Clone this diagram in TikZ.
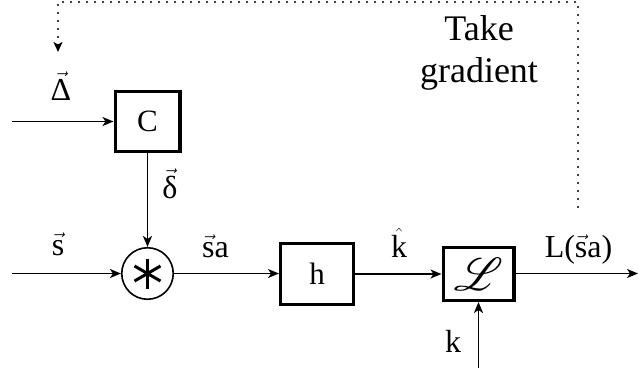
\documentclass[tikz,border=0pt]{standalone}
\usepackage{fontspec}
\setmainfont{Liberation Serif}
\usepackage{mathrsfs}
\usepackage{graphicx}
\usetikzlibrary{arrows.meta,calc}
\begin{document}
\begin{tikzpicture}[x=1pt,y=-1pt,
  blockbox/.style={draw, line width=3.4pt, inner sep=0pt, font=\fontsize{31}{34}\selectfont},
  convnode/.style={draw, circle, line width=1.6pt, minimum size=51.5pt, inner sep=0pt},
  sig/.style={line width=1.8pt, -{Stealth[length=11pt,width=9pt,inset=3pt]}},
  fb/.style={line width=2.2pt, line cap=round, dash pattern=on 0pt off 8pt, -{Stealth[length=10pt,width=9pt,inset=2.5pt]}},
  lbl/.style={inner sep=0pt, anchor=base, font=\fontsize{32}{34}\selectfont},
  note/.style={inner sep=0pt, align=center, font=\fontsize{36}{42}\selectfont}
]
\useasboundingbox (0,0) rectangle (639,368);

% blocks
\node[blockbox, minimum width=64.6pt, minimum height=59.6pt] (C) at (147.5,121.5) {C};
\node[convnode] (conv) at (147.5,273.5) {};
\node[blockbox, minimum width=72.6pt, minimum height=60.6pt] (h) at (317,274) {h};
\node[blockbox, minimum width=70.6pt, minimum height=52.6pt, font=\fontsize{24.88}{28}\selectfont] (L) at (478.5,274) {\scalebox{1.85}{$\mathscr{L}$}};

% asterisk inside the convolution circle
\foreach \a in {90,30,150}
  \draw[line width=3pt] ($(conv.center)+(\a:15pt)$) -- ($(conv.center)+(\a+180:15pt)$);

% free ends
\coordinate (inC) at (12,121.5);
\coordinate (inS) at (12,273.5);
\coordinate (out) at (638,273.5);
\coordinate (kin) at (478.5,368);
\coordinate (gstart) at (578,207);
\coordinate (gend) at (58,52);

% connectors
\draw[sig] (inC) -- (C.west);
\draw[sig] (C.south) -- (conv.north);
\draw[sig] (inS) -- (conv.west);
\draw[sig] (conv.east) -- (conv.east -| h.west);
\draw[sig] (h.east) -- (h.east -| L.west);
\draw[sig] (L.east |- out) -- (out);
\draw[sig] (kin) -- (L.south);
\draw[fb] (gstart) -- (578,2) -- (58,2) -- (gend);

% labels
\node[lbl] (lD) at (61,100) {$\vec{\mbox{Δ}}$};
\node[lbl] (ld) at (170,198) {$\vec{\mbox{δ}}$};
\node[lbl] (ls) at (58,255) {$\vec{\mbox{s}}$};
\node[lbl] (lsa) at (215.5,257) {$\vec{\mbox{s}}$a};
\node[lbl] (lkh) at (399,257) {$\hat{\mbox{k}}$};
\node[lbl] (lL) at (578.5,257) {L($\vec{\mbox{s}}$a)};
\node[lbl] (lk) at (453,352) {k};
\node[note] (tg) at (479,53) {Take\\gradient};
\end{tikzpicture}
\end{document}
